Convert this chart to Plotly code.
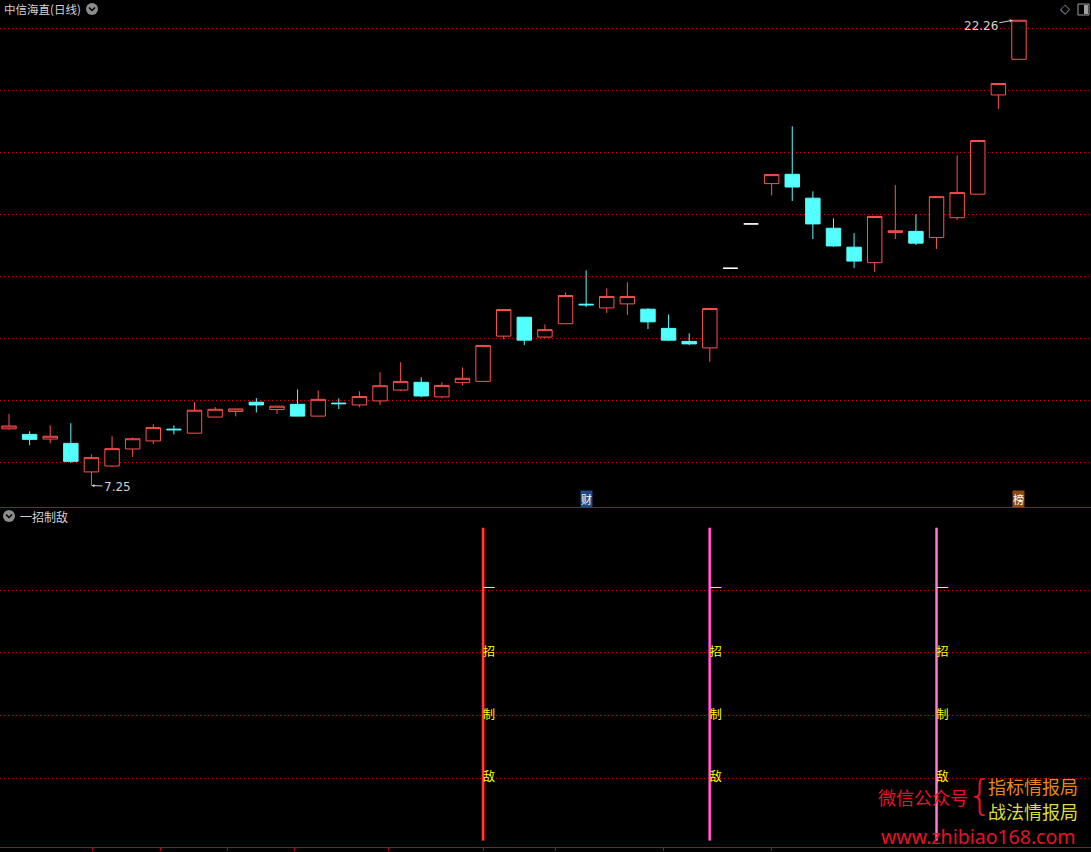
import plotly.graph_objects as go

W, H = 1091, 852

# ---------------- data ----------------
idx = list(range(50))
opens = [9.08, 8.90, 8.75, 8.61, 7.69, 7.88, 8.43, 8.69, 9.07, 8.94,
         9.46, 9.64, 9.94, 9.70, 9.87, 9.49, 9.91, 9.85, 9.98, 10.33,
         10.58, 10.11, 10.57, 10.61, 12.07, 12.68, 12.04, 12.47, 13.10, 12.98,
         13.11, 12.94, 12.32, 11.90, 11.69, 14.26, 15.69, 16.99, 17.29, 16.52,
         15.55, 14.94, 14.44, 15.41, 15.45, 15.25, 15.89, 16.65, 19.85, 21.00]
highs = [9.56, 9.00, 9.19, 9.26, 8.26, 8.84, 8.80, 9.23, 9.19, 9.94,
         9.78, 9.72, 10.07, 9.81, 10.35, 10.32, 10.06, 10.29, 10.90, 11.23,
         10.74, 10.58, 11.06, 11.77, 12.93, 12.68, 12.45, 13.48, 14.19, 13.61,
         13.81, 12.97, 12.77, 12.16, 12.96, 14.26, 15.69, 17.28, 18.84, 16.74,
         15.87, 15.39, 15.93, 16.94, 16.00, 16.57, 17.90, 18.38, 20.22, 22.26]
lows = [9.06, 8.55, 8.61, 7.97, 7.25, 7.85, 8.17, 8.59, 8.90, 8.94,
        9.46, 9.48, 9.61, 9.56, 9.48, 9.49, 9.72, 9.78, 9.85, 10.30,
        10.10, 10.07, 10.48, 10.61, 11.97, 11.78, 12.01, 12.47, 13.01, 12.82,
        12.75, 12.30, 11.91, 11.78, 11.24, 14.26, 15.69, 16.61, 16.43, 15.20,
        14.95, 14.27, 14.14, 15.20, 15.01, 14.88, 15.82, 16.65, 19.40, 21.00]
closes = [9.17, 8.74, 8.84, 8.03, 8.15, 8.44, 8.76, 9.12, 9.05, 9.68,
          9.71, 9.72, 9.85, 9.81, 9.49, 10.03, 9.89, 10.12, 10.47, 10.61,
          10.14, 10.48, 10.71, 11.77, 12.93, 11.94, 12.28, 13.38, 13.08, 13.35,
          13.35, 12.53, 11.94, 11.82, 12.96, 14.26, 15.69, 17.28, 16.88, 15.69,
          14.98, 14.49, 15.93, 15.47, 15.07, 16.57, 16.70, 18.38, 20.22, 22.26]

signal_idx = [23, 34, 45]
signal_outer = ["#FF0000", "#F23CB6", "#F23CB6"]
signal_inner = ["#FF7878", "#FF80D4", "#FF80D4"]
signal_top = 5
signal_chars = ["一", "招", "制", "敌"]
signal_levels = [4, 3, 2, 1]

event_idx = [28, 49]
event_text = ["财", "榜"]
event_bg = ["#1D4A86", "#8A4A12"]
event_level = 6.82

price_grid = [8, 10, 12, 14, 16, 18, 20, 22]
ind_grid = [1, 2, 3, 4]
axis_ticks = [4.06, 7.36, 10.6, 13.86, 18.42, 23.03, 26.5, 31.76, 37.0]

title_text = "中信海直(日线)"
ind_title = "一招制敌"

# ---------------- styles ----------------
RED = "#FF5050"
CYAN = "#54FFFF"
GRID = "#D00000"
AXIS = "#D00000"
TXT = "#D2D2D2"
CJK = "Noto Sans CJK SC"


def px(x):
    return x / W


def py(y):
    return 1 - y / H


normal = [i for i in idx if highs[i] != lows[i]]
flat = [i for i in idx if highs[i] == lows[i]]

fig = go.Figure()
fig.add_trace(go.Candlestick(
    x=normal,
    open=[opens[i] for i in normal], high=[highs[i] for i in normal],
    low=[lows[i] for i in normal], close=[closes[i] for i in normal],
    increasing=dict(line=dict(color=RED, width=1), fillcolor="#000000"),
    decreasing=dict(line=dict(color=CYAN, width=1), fillcolor=CYAN),
    whiskerwidth=0, hoverinfo="skip", xaxis="x", yaxis="y"))
fig.add_trace(go.Candlestick(
    x=flat,
    open=[opens[i] for i in flat], high=[highs[i] for i in flat],
    low=[lows[i] for i in flat], close=[closes[i] for i in flat],
    increasing=dict(line=dict(color="#FFFFFF", width=1), fillcolor="#FFFFFF"),
    decreasing=dict(line=dict(color="#FFFFFF", width=1), fillcolor="#FFFFFF"),
    whiskerwidth=0, hoverinfo="skip", xaxis="x", yaxis="y"))

# indicator panel
for k, s in enumerate(signal_idx):
    fig.add_trace(go.Scatter(x=[s, s], y=[0, signal_top], mode="lines",
                             line=dict(color=signal_outer[k], width=3),
                             hoverinfo="skip", xaxis="x2", yaxis="y2"))
    fig.add_trace(go.Scatter(x=[s, s], y=[0, signal_top], mode="lines",
                             line=dict(color=signal_inner[k], width=1),
                             hoverinfo="skip", xaxis="x2", yaxis="y2"))
    fig.add_trace(go.Scatter(x=[s] * len(signal_chars), y=signal_levels,
                             mode="text", text=signal_chars,
                             textposition="middle right",
                             textfont=dict(color="#FFFF00", size=12, family=CJK),
                             hoverinfo="skip", xaxis="x2", yaxis="y2"))

x0 = -9 / 20.612
x1 = (W - 9) / 20.612
split = 1 - 507 / H

fig.update_layout(
    width=W, height=H, margin=dict(l=0, r=0, t=0, b=0),
    paper_bgcolor="#000000", plot_bgcolor="#000000",
    showlegend=False, boxgap=0.3, boxgroupgap=0,
    xaxis=dict(domain=[0, 1], range=[x0, x1], anchor="y",
               showgrid=False, zeroline=False, showticklabels=False,
               showline=True, linecolor=AXIS, linewidth=1,
               rangeslider=dict(visible=False), fixedrange=True),
    yaxis=dict(domain=[split, 1], range=[6.558, 22.913], anchor="x",
               tickvals=price_grid, showticklabels=False,
               showgrid=True, gridcolor=GRID, gridwidth=1, griddash="1px,3px",
               zeroline=False, showline=True, linecolor="#E00000", linewidth=2,
               fixedrange=True),
    xaxis2=dict(domain=[0, 1], matches="x", anchor="y2",
                showgrid=False, zeroline=False, showticklabels=False,
                showline=True, linecolor=AXIS, linewidth=1,
                ticks="outside", tickvals=axis_ticks, ticklen=3,
                tickcolor=AXIS, tickwidth=1, fixedrange=True),
    yaxis2=dict(domain=[5 / H, split], range=[-0.102, 5.333], anchor="x2",
                tickvals=ind_grid, showticklabels=False,
                showgrid=True, gridcolor=GRID, gridwidth=1, griddash="1px,3px",
                zeroline=False, showline=True, linecolor="#E00000", linewidth=2,
                fixedrange=True),
)


def label(text, x, y, color, size, family=CJK, xanchor="center", weight=None):
    f = dict(color=color, size=size, family=family)
    if weight is not None:
        f["weight"] = weight
    return dict(text=text, x=px(x), y=py(y), xref="paper", yref="paper",
                xanchor=xanchor, yanchor="middle", showarrow=False, font=f)


ann = []
# titles
ann.append(label(title_text, 2, 9, TXT, 11.5, xanchor="left"))
ann.append(label(ind_title, 18, 516, TXT, 12, xanchor="left"))
ann.append(label("◇", 1065, 9, "#A0A0A0", 13, family="DejaVu Sans"))

# high / low markers
hi_i = max(idx, key=lambda i: highs[i])
lo_i = min(idx, key=lambda i: lows[i])
ann.append(dict(text=f"{highs[hi_i]:.2f}", x=hi_i - 0.3, y=highs[hi_i],
                xref="x", yref="y", showarrow=True, ax=-32, ay=6,
                arrowhead=2, arrowsize=0.6, arrowwidth=1, arrowcolor=TXT,
                font=dict(color=TXT, size=12, family="DejaVu Sans")))
ann.append(dict(text=f"{lows[lo_i]:.2f}", x=lo_i, y=lows[lo_i],
                xref="x", yref="y", showarrow=True, ax=26, ay=1,
                arrowhead=2, arrowsize=0.6, arrowwidth=1, arrowcolor=TXT,
                font=dict(color=TXT, size=12, family="DejaVu Sans")))

# event markers
for k, e in enumerate(event_idx):
    ann.append(dict(text=event_text[k], x=e, y=event_level, xref="x", yref="y",
                    showarrow=False, bgcolor=event_bg[k], borderpad=0,
                    font=dict(color="#FFFFFF", size=11, family=CJK)))

# watermark
ann.append(label("微信公众号", 923, 797, "#E8102A", 18))
ann.append(label("{", 979, 795, "#E8102A", 40, family="DejaVu Sans", weight=300))
ann.append(label("指标情报局", 1033, 786, "#E8861A", 18))
ann.append(label("战法情报局", 1033, 811, "#DCDC3C", 18))
ann.append(label("www.zhibiao168.com", 978, 836, "#E8102A", 19.5, family="Noto Sans"))

fig.update_layout(annotations=ann)

# small icons
shapes = []
for cx, cy in [(92, 9), (9, 516)]:
    shapes.append(dict(type="circle", xref="paper", yref="paper",
                       x0=px(cx - 6), x1=px(cx + 6), y0=py(cy + 6), y1=py(cy - 6),
                       fillcolor="#8C8C8C", line=dict(width=0)))
    shapes.append(dict(type="path", xref="paper", yref="paper",
                       path=f"M {px(cx-3)} {py(cy-1.5)} L {px(cx)} {py(cy+1.5)} L {px(cx+3)} {py(cy-1.5)}",
                       line=dict(color="#000000", width=1.5)))
shapes.append(dict(type="rect", xref="paper", yref="paper",
                   x0=px(1078), x1=px(1089), y0=py(15), y1=py(4),
                   line=dict(color="#A0A0A0", width=1)))
shapes.append(dict(type="rect", xref="paper", yref="paper",
                   x0=px(1084), x1=px(1088), y0=py(14), y1=py(5),
                   fillcolor="#A0A0A0", line=dict(width=0)))
fig.update_layout(shapes=shapes)

fig.write_html("out.html", config={"displayModeBar": False},
               post_script="document.body.style.margin='0';document.body.style.overflow='hidden';")
